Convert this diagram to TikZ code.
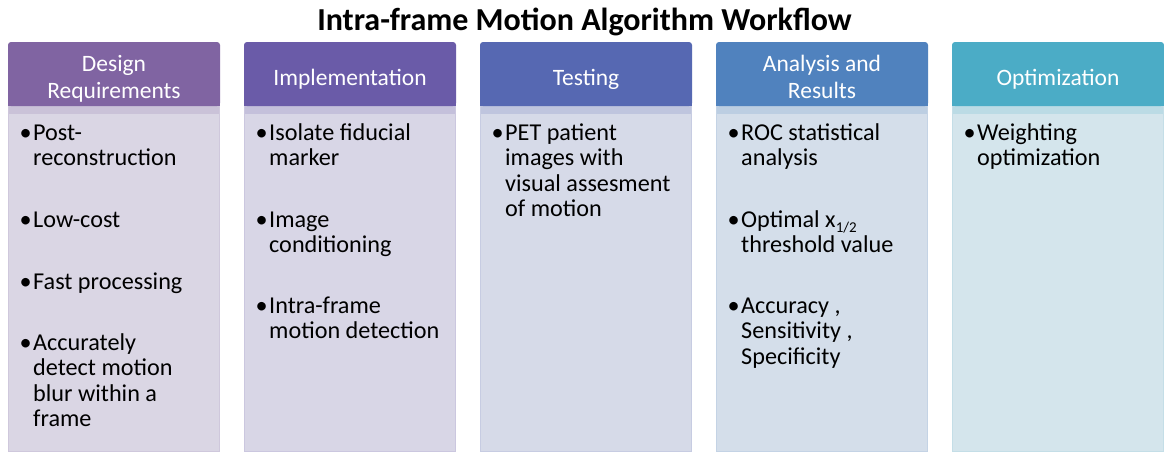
\documentclass[tikz,border=0pt]{standalone}
\usepackage{fontspec}
\setmainfont{Carlito}
\definecolor{hA}{RGB}{128,100,162}
\definecolor{hB}{RGB}{106,91,168}
\definecolor{hC}{RGB}{86,104,178}
\definecolor{hD}{RGB}{80,130,190}
\definecolor{hE}{RGB}{75,172,198}
\definecolor{bA}{RGB}{218,214,228}
\definecolor{bB}{RGB}{216,214,230}
\definecolor{bC}{RGB}{214,218,232}
\definecolor{bD}{RGB}{212,222,234}
\definecolor{bE}{RGB}{212,229,236}
\newcommand\bs{\baselineskip=25.3pt\lineskiplimit=-10pt}
\newcommand\sub[1]{\raisebox{-5pt}{\fontsize{15}{15}\selectfont #1}}
\tikzset{
  headbox/.style={draw=none, rounded corners=3pt},
  bodybox/.style={line width=0.8pt},
  headtext/.style={inner sep=0pt, anchor=base, text=white, font=\fontsize{23.5}{26.6}\selectfont},
  itemtext/.style={inner sep=0pt, anchor=base west, font=\fontsize{24.2}{25.3}\selectfont},
  bullet/.style={inner sep=0pt, anchor=base west, font=\fontsize{24.2}{25.3}\selectfont},
  titletext/.style={inner sep=0pt, anchor=base, font=\fontsize{32}{34}\selectfont\bfseries}
}
\begin{document}
\begin{tikzpicture}[x=1pt,y=-1pt]
\useasboundingbox (0,0) rectangle (1164,453);
\fill[white] (0,0) rectangle (1164,453);
\node[titletext] (title) at (584.5,30.5) {Intra-frame Motion Algorithm Workflow};
% columns
\foreach \x/\h/\b [count=\i] in {8/hA/bA,244/hB/bB,480/hC/bC,716/hD/bD,952/hE/bE}{
  \path[bodybox, fill=\b, draw=\b!88!\h] (\x+0.5,106) rectangle (\x+211.5,451.5);
  \fill[\b!82!\h] (\x+1,106) rectangle (\x+211,114);
  \fill[\h, headbox] (\x,42) rectangle (\x+212,106);
  \fill[\h] (\x,100) rectangle (\x+212,106);
}
% header texts
\node[headtext] (h1a) at (114,71.7) {Design};
\node[headtext] (h1b) at (114,98.3) {Requirements};
\node[headtext] (h2) at (350,85) {Implementation};
\node[headtext] (h3) at (586,85) {Testing};
\node[headtext] (h4a) at (822,71.7) {Analysis and};
\node[headtext] (h4b) at (822,98.3) {Results};
\node[headtext] (h5) at (1058,85) {Optimization};
% column 1
\node[bullet] (d1) at (19.5,140.5) {•};
\node[itemtext] (t1a) at (33,140.5) {\vtop{\bs\hbox{Post-}\hbox{reconstruction}}};
\node[bullet] (d2) at (19.5,227.5) {•};
\node[itemtext] (t1b) at (33,227.5) {Low-cost};
\node[bullet] (d3) at (19.5,289) {•};
\node[itemtext] (t1c) at (33,289) {Fast processing};
\node[bullet] (d4) at (19.5,350.5) {•};
\node[itemtext] (t1d) at (33,350.5) {\vtop{\bs\hbox{Accurately}\hbox{detect motion}\hbox{blur within a}\hbox{frame}}};
% column 2
\node[bullet] (e1) at (255.5,140.5) {•};
\node[itemtext] (t2a) at (269,140.5) {\vtop{\bs\hbox{Isolate fiducial}\hbox{marker}}};
\node[bullet] (e2) at (255.5,227) {•};
\node[itemtext] (t2b) at (269,227) {\vtop{\bs\hbox{Image}\hbox{conditioning}}};
\node[bullet] (e3) at (255.5,313.5) {•};
\node[itemtext] (t2c) at (269,313.5) {\vtop{\bs\hbox{Intra-frame}\hbox{motion detection}}};
% column 3
\node[bullet] (f1) at (491.5,140.5) {•};
\node[itemtext] (t3a) at (505,140.5) {\vtop{\bs\hbox{PET patient}\hbox{images with}\hbox{visual assesment}\hbox{of motion}}};
% column 4
\node[bullet] (g1) at (727.5,140.5) {•};
\node[itemtext] (t4a) at (741,140.5) {\vtop{\bs\hbox{ROC statistical}\hbox{analysis}}};
\node[bullet] (g2) at (727.5,227) {•};
\node[itemtext] (t4b) at (741,227) {\vtop{\bs\hbox{Optimal x\sub{1/2}}\hbox{threshold value}}};
\node[bullet] (g3) at (727.5,313.5) {•};
\node[itemtext] (t4c) at (741,313.5) {\vtop{\bs\hbox{Accuracy ,}\hbox{Sensitivity ,}\hbox{Specificity}}};
% column 5
\node[bullet] (k1) at (963.5,140.5) {•};
\node[itemtext] (t5a) at (977,140.5) {\vtop{\bs\hbox{Weighting}\hbox{optimization}}};
\end{tikzpicture}
\end{document}
